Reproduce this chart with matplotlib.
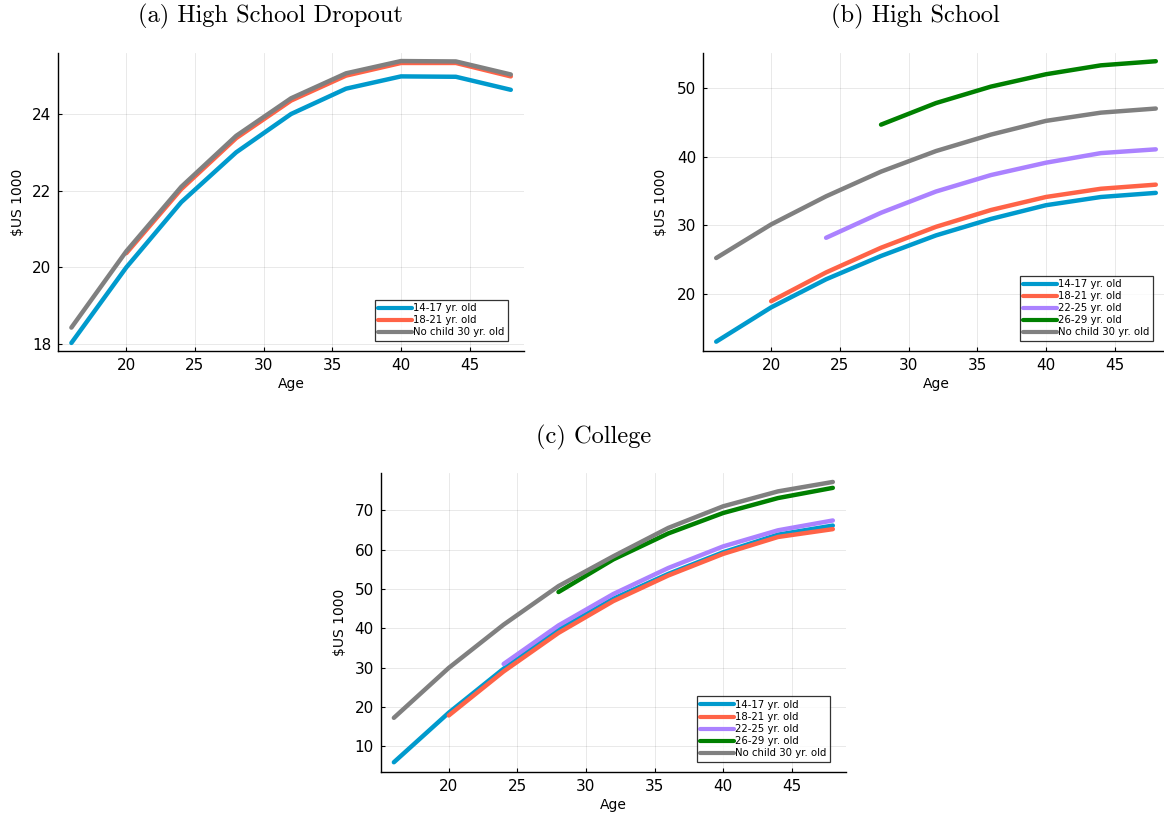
import matplotlib
matplotlib.use("Agg")
import matplotlib.pyplot as plt
import numpy as np

ages = [16, 20, 24, 28, 32, 36, 40, 44, 48]

labels = ["14-17 yr. old", "18-21 yr. old", "22-25 yr. old", "26-29 yr. old", "No child 30 yr. old"]
colors = ["#009ACD", "#FF6347", "#AB82FF", "#008000", "#808080"]

# (a) High School Dropout
a_1417 = [18.03, 20.00, 21.70, 23.00, 24.00, 24.66, 24.98, 24.97, 24.63]
a_1821 = [20.37, 22.04, 23.37, 24.35, 25.00, 25.33, 25.33, 24.98]
a_nochild = [18.43, 20.42, 22.10, 23.43, 24.41, 25.06, 25.38, 25.37, 25.03]

# (b) High School
b_1417 = [13.0, 18.0, 22.1, 25.5, 28.5, 30.9, 32.9, 34.1, 34.7]
b_1821 = [18.9, 23.1, 26.7, 29.75, 32.2, 34.1, 35.3, 35.9]
b_2225 = [28.15, 31.8, 34.9, 37.3, 39.1, 40.5, 41.05]
b_2629 = [44.65, 47.8, 50.2, 52.0, 53.3, 53.9]
b_nochild = [25.2, 30.1, 34.2, 37.8, 40.8, 43.2, 45.2, 46.4, 47.0]

# (c) College
c_1417 = [5.9, 18.5, 29.7, 39.6, 47.5, 53.8, 59.3, 63.8, 66.1]
c_1821 = [17.8, 29.0, 38.8, 46.9, 53.4, 58.9, 63.2, 65.2]
c_2225 = [30.9, 40.7, 48.7, 55.3, 60.8, 64.9, 67.4]
c_2629 = [49.2, 57.5, 64.1, 69.3, 73.1, 75.7]
c_nochild = [17.2, 29.9, 40.9, 50.7, 58.3, 65.5, 71.0, 74.8, 77.2]

x_ticks = [20, 25, 30, 35, 40, 45]
a_yticks = [18, 20, 22, 24]
b_yticks = [20, 30, 40, 50]
c_yticks = [10, 20, 30, 40, 50, 60, 70]

titles = ["(a) High School Dropout", "(b) High School", "(c) College"]

W, H = 1164, 814
fig = plt.figure(figsize=(W / 100, H / 100), dpi=100)


def px_axes(left, right, top, bottom):
    return fig.add_axes([left / W, (H - bottom) / H, (right - left) / W, (bottom - top) / H])


def style(ax, yticks, ylim, axw, axh, ylab_x):
    ax.set_xlim(15.04, 48.96)
    ax.set_ylim(*ylim)
    ax.set_xticks(x_ticks)
    ax.set_yticks(yticks)
    for s in ["top", "right"]:
        ax.spines[s].set_visible(False)
    for s in ["left", "bottom"]:
        ax.spines[s].set_linewidth(1.0)
        ax.spines[s].set_color("black")
    ax.grid(True, color="black", alpha=0.1, linewidth=0.6)
    ax.set_axisbelow(True)
    ax.tick_params(direction="in", length=3, width=0.8, labelsize=11, pad=5)
    ax.set_xlabel("Age", fontsize=10, va="center")
    ax.xaxis.set_label_coords(0.5, -33 / axh)
    ax.set_ylabel("\\$US 1000", fontsize=10, va="center")
    ax.yaxis.set_label_coords(ylab_x, 0.5)
    leg = ax.legend(loc="lower right", bbox_to_anchor=(1 - 16 / axw, 10 / axh),
                    borderaxespad=0, fontsize=7.3, frameon=True, fancybox=False,
                    handlelength=3.3, handletextpad=0.15, labelspacing=0.2,
                    borderpad=0.35)
    leg.get_frame().set_edgecolor("black")
    leg.get_frame().set_linewidth(0.9)
    for line in leg.get_lines():
        line.set_linewidth(3.0)


def plot_series(ax, series):
    for vals, lab, col in series:
        ax.plot(ages[len(ages) - len(vals):], vals, color=col, lw=3.2, label=lab,
                solid_capstyle="round")


# Panel a
axa = px_axes(58.2, 524, 53, 351)
plot_series(axa, [(a_1417, labels[0], colors[0]), (a_1821, labels[1], colors[1]),
                  (a_nochild, labels[4], colors[4])])
style(axa, a_yticks, (17.82, 25.59), 465.8, 298, (18 - 58.2) / 465.8)

# Panel b
axb = px_axes(703, 1169, 53, 351)
plot_series(axb, [(b_1417, labels[0], colors[0]), (b_1821, labels[1], colors[1]),
                  (b_2225, labels[2], colors[2]), (b_2629, labels[3], colors[3]),
                  (b_nochild, labels[4], colors[4])])
style(axb, b_yticks, (11.64, 55.1), 466, 298, (661 - 703) / 466)

# Panel c
axc = px_axes(380.7, 846, 473.3, 771.7)
plot_series(axc, [(c_1417, labels[0], colors[0]), (c_1821, labels[1], colors[1]),
                  (c_2225, labels[2], colors[2]), (c_2629, labels[3], colors[3]),
                  (c_nochild, labels[4], colors[4])])
style(axc, c_yticks, (3.5, 79.4), 465.3, 298.4, (340 - 380.7) / 465.3)

title_pos = [(270, 16), (915, 16), (594, 437)]
for t, (x, y) in zip(titles, title_pos):
    fig.text(x / W, 1 - y / H, t, ha="center", va="center", fontsize=17.6,
             family=["cmr10", "DejaVu Serif"])

fig.savefig("out.png", dpi=100)
